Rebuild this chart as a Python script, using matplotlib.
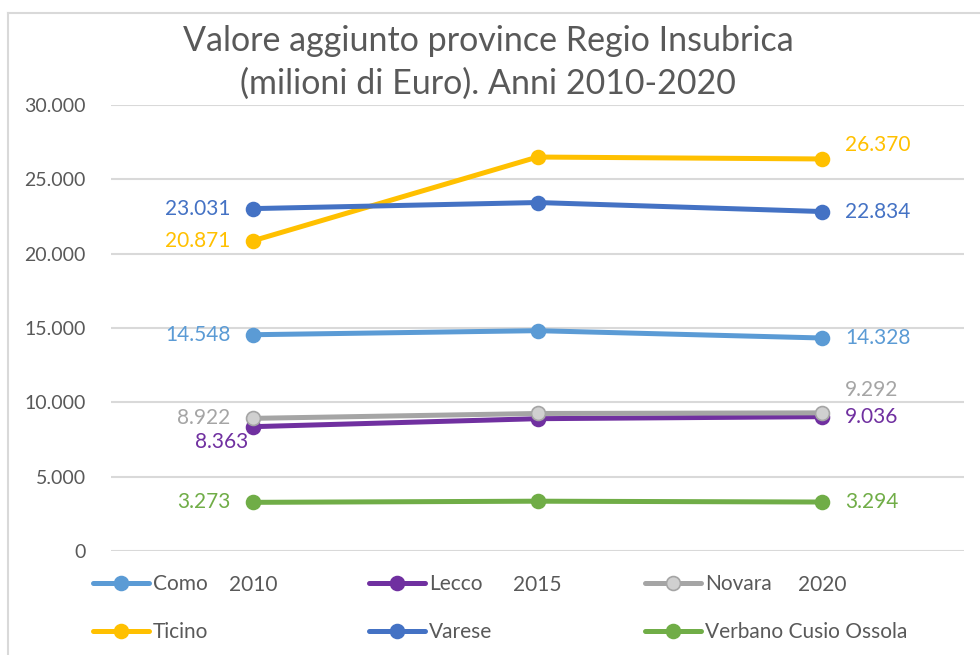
import matplotlib
matplotlib.use("Agg")
import matplotlib.pyplot as plt
from matplotlib.lines import Line2D
from matplotlib.ticker import FuncFormatter

plt.rcParams["font.family"] = ["Lato", "DejaVu Sans"]

# data (milioni di Euro)
YEARS = ["2010", "2015", "2020"]
COMO = [14548, 14820, 14328]
LECCO = [8363, 8900, 9036]
NOVARA = [8922, 9250, 9292]
TICINO = [20871, 26500, 26370]
VARESE = [23031, 23440, 22834]
VCO = [3273, 3350, 3294]

NAMES = ["Como", "Lecco", "Novara", "Ticino", "Varese", "Verbano Cusio Ossola"]
SERIES = [COMO, LECCO, NOVARA, TICINO, VARESE, VCO]
COLORS = ["#5B9BD5", "#7030A0", "#A5A5A5", "#FFC000", "#4472C4", "#70AD47"]

# label offsets (pixels) for first / last point
FIRST_OFF = [(-23, 0), (-5, -15), (-23, 0), (-23, 0), (-23, 0), (-23, 0)]
LAST_OFF = [(23, 0), (23, 0), (23, 23), (23, 14), (23, 0), (23, 0)]

TEXT = "#595959"
GRID = "#D9D9D9"


def fmt_it(v):
    return f"{int(round(v)):,}".replace(",", ".")


fig = plt.figure(figsize=(9.8, 6.55), dpi=100)
ax = fig.add_axes([111 / 980, 1 - 551 / 655, 853 / 980, 446 / 655])

x = list(range(len(YEARS)))
handles = []
for i, (name, ys, c) in enumerate(zip(NAMES, SERIES, COLORS)):
    face = "#D0D0D0" if name == "Novara" else c
    ln, = ax.plot(x, ys, color=c, lw=3.6, marker="o", ms=10,
                  markerfacecolor=face, markeredgecolor=c, markeredgewidth=1.2,
                  solid_capstyle="round", zorder=3, label=name)
    handles.append(ln)
    ax.annotate(fmt_it(ys[0]), (x[0], ys[0]), textcoords="offset pixels",
                xytext=FIRST_OFF[i], ha="right", va="center",
                fontsize=15, color=c)
    ax.annotate(fmt_it(ys[-1]), (x[-1], ys[-1]), textcoords="offset pixels",
                xytext=LAST_OFF[i], ha="left", va="center",
                fontsize=15, color=c)

ax.set_xlim(-0.5, len(YEARS) - 0.5)
ax.set_ylim(0, 30000)
ax.set_yticks(range(0, 30001, 5000))
ax.yaxis.set_major_formatter(FuncFormatter(lambda v, p: fmt_it(v)))
ax.set_xticks(x)
ax.set_xticklabels(YEARS)
ax.grid(axis="y", color=GRID, lw=1.5)
ax.set_axisbelow(True)
for s in ax.spines.values():
    s.set_visible(False)
ax.tick_params(length=0, labelsize=14, colors=TEXT)
ax.tick_params(axis="y", pad=18)
ax.tick_params(axis="x", pad=17, labelsize=15)

fig.suptitle("Valore aggiunto province Regio Insubrica\n(milioni di Euro). Anni 2010-2020",
             x=488 / 980, y=1 - 25 / 655, va="top", fontsize=24.5, color=TEXT,
             linespacing=1.42)

# legend: one small legend per column so the columns sit where Excel put them
COL_X = [93, 369, 645]
for col in range(3):
    pair = [col, col + 3]
    leg = fig.legend([handles[k] for k in pair], [NAMES[k] for k in pair],
                     loc="upper left",
                     bbox_to_anchor=(COL_X[col] / 980, 1 - 574 / 655),
                     frameon=False, fontsize=15, labelcolor=TEXT,
                     handlelength=2.69, handletextpad=0.19,
                     labelspacing=1.35, borderpad=0, borderaxespad=0)

# chart area border (cut off at right and bottom)
fig.add_artist(Line2D([8 / 980, 1], [1 - 13 / 655, 1 - 13 / 655],
                      transform=fig.transFigure, color=GRID, lw=1.5))
fig.add_artist(Line2D([8 / 980, 8 / 980], [0, 1 - 13 / 655],
                      transform=fig.transFigure, color=GRID, lw=1.5))

fig.savefig("out.png", dpi=100)
